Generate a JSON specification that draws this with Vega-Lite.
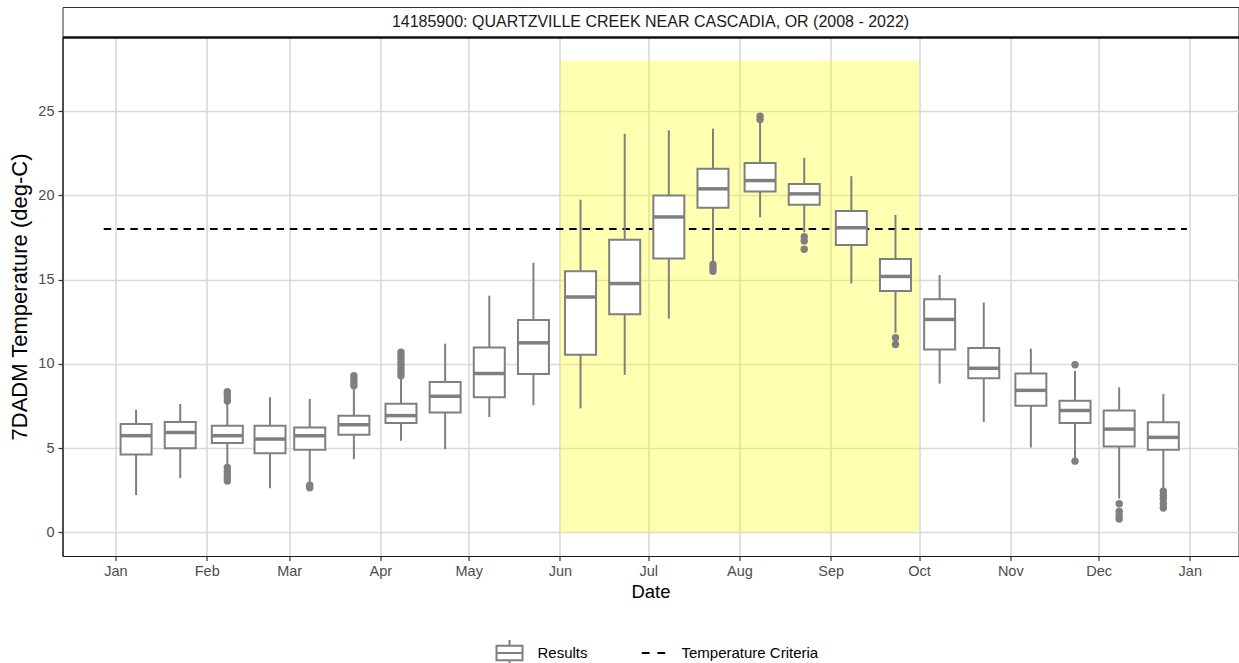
{
  "$schema": "https://vega.github.io/schema/vega-lite/v6.json",
  "autosize": {"type": "pad"},
  "padding": {"left": 7.5, "top": 6, "right": 1, "bottom": 5},
  "background": "white",
  "spacing": 0,
  "bounds": "flush",
  "datasets": {
    "strip": [{"label": "14185900: QUARTZVILLE CREEK NEAR CASCADIA, OR (2008 - 2022)"}],
    "season": [{"start": "2022-06-01T00:00:00", "end": "2022-10-01T00:00:00", "lo": 0, "hi": 28}],
    "criteria": [{"start": "2021-12-28T00:00:00", "end": "2022-12-31T00:00:00", "value": 18, "series": "Temperature Criteria"}],
    "boxes": [
      {"date": "2022-01-08T00:00:00", "lo": 2.22, "q1": 4.62, "med": 5.74, "q3": 6.43, "hi": 7.28, "series": "Results"},
      {"date": "2022-01-23T00:00:00", "lo": 3.22, "q1": 5.0, "med": 5.93, "q3": 6.55, "hi": 7.62, "series": "Results"},
      {"date": "2022-02-08T00:00:00", "lo": 3.95, "q1": 5.3, "med": 5.74, "q3": 6.33, "hi": 7.68, "series": "Results"},
      {"date": "2022-02-22T12:00:00", "lo": 2.62, "q1": 4.7, "med": 5.54, "q3": 6.33, "hi": 8.02, "series": "Results"},
      {"date": "2022-03-08T00:00:00", "lo": 3.0, "q1": 4.9, "med": 5.74, "q3": 6.23, "hi": 7.92, "series": "Results"},
      {"date": "2022-03-23T00:00:00", "lo": 4.35, "q1": 5.8, "med": 6.39, "q3": 6.93, "hi": 8.5, "series": "Results"},
      {"date": "2022-04-08T00:00:00", "lo": 5.44, "q1": 6.49, "med": 6.93, "q3": 7.64, "hi": 9.1, "series": "Results"},
      {"date": "2022-04-23T00:00:00", "lo": 4.94, "q1": 7.12, "med": 8.08, "q3": 8.93, "hi": 11.2, "series": "Results"},
      {"date": "2022-05-08T00:00:00", "lo": 6.85, "q1": 8.02, "med": 9.43, "q3": 10.98, "hi": 14.05, "series": "Results"},
      {"date": "2022-05-23T00:00:00", "lo": 7.55, "q1": 9.4, "med": 11.25, "q3": 12.6, "hi": 16.0, "series": "Results"},
      {"date": "2022-06-08T00:00:00", "lo": 7.36, "q1": 10.54, "med": 13.97, "q3": 15.5, "hi": 19.75, "series": "Results"},
      {"date": "2022-06-23T00:00:00", "lo": 9.35, "q1": 12.94, "med": 14.77, "q3": 17.37, "hi": 23.66, "series": "Results"},
      {"date": "2022-07-08T00:00:00", "lo": 12.69, "q1": 16.26, "med": 18.72, "q3": 19.99, "hi": 23.86, "series": "Results"},
      {"date": "2022-07-23T00:00:00", "lo": 16.1, "q1": 19.27, "med": 20.39, "q3": 21.58, "hi": 23.96, "series": "Results"},
      {"date": "2022-08-08T00:00:00", "lo": 18.7, "q1": 20.23, "med": 20.88, "q3": 21.92, "hi": 24.3, "series": "Results"},
      {"date": "2022-08-23T00:00:00", "lo": 17.81, "q1": 19.45, "med": 20.09, "q3": 20.68, "hi": 22.23, "series": "Results"},
      {"date": "2022-09-08T00:00:00", "lo": 14.77, "q1": 17.05, "med": 18.08, "q3": 19.08, "hi": 21.14, "series": "Results"},
      {"date": "2022-09-23T00:00:00", "lo": 11.85, "q1": 14.33, "med": 15.19, "q3": 16.22, "hi": 18.84, "series": "Results"},
      {"date": "2022-10-08T00:00:00", "lo": 8.83, "q1": 10.86, "med": 12.64, "q3": 13.84, "hi": 15.27, "series": "Results"},
      {"date": "2022-10-23T00:00:00", "lo": 6.55, "q1": 9.15, "med": 9.74, "q3": 10.94, "hi": 13.64, "series": "Results"},
      {"date": "2022-11-08T00:00:00", "lo": 5.04, "q1": 7.52, "med": 8.43, "q3": 9.43, "hi": 10.9, "series": "Results"},
      {"date": "2022-11-23T00:00:00", "lo": 4.4, "q1": 6.49, "med": 7.24, "q3": 7.82, "hi": 9.6, "series": "Results"},
      {"date": "2022-12-08T00:00:00", "lo": 2.0, "q1": 5.1, "med": 6.13, "q3": 7.24, "hi": 8.61, "series": "Results"},
      {"date": "2022-12-23T00:00:00", "lo": 2.6, "q1": 4.9, "med": 5.64, "q3": 6.53, "hi": 8.22, "series": "Results"}
    ],
    "outliers": [
      {"date": "2022-02-08T00:00:00", "value": 3.85},
      {"date": "2022-02-08T00:00:00", "value": 3.6},
      {"date": "2022-02-08T00:00:00", "value": 3.4},
      {"date": "2022-02-08T00:00:00", "value": 3.2},
      {"date": "2022-02-08T00:00:00", "value": 3.05},
      {"date": "2022-02-08T00:00:00", "value": 7.8},
      {"date": "2022-02-08T00:00:00", "value": 8.0},
      {"date": "2022-02-08T00:00:00", "value": 8.2},
      {"date": "2022-02-08T00:00:00", "value": 8.35},
      {"date": "2022-03-08T00:00:00", "value": 2.8},
      {"date": "2022-03-08T00:00:00", "value": 2.65},
      {"date": "2022-03-23T00:00:00", "value": 8.7},
      {"date": "2022-03-23T00:00:00", "value": 8.9},
      {"date": "2022-03-23T00:00:00", "value": 9.1},
      {"date": "2022-03-23T00:00:00", "value": 9.3},
      {"date": "2022-04-08T00:00:00", "value": 9.3},
      {"date": "2022-04-08T00:00:00", "value": 9.5},
      {"date": "2022-04-08T00:00:00", "value": 9.7},
      {"date": "2022-04-08T00:00:00", "value": 9.9},
      {"date": "2022-04-08T00:00:00", "value": 10.1},
      {"date": "2022-04-08T00:00:00", "value": 10.3},
      {"date": "2022-04-08T00:00:00", "value": 10.5},
      {"date": "2022-04-08T00:00:00", "value": 10.7},
      {"date": "2022-07-23T00:00:00", "value": 15.9},
      {"date": "2022-07-23T00:00:00", "value": 15.7},
      {"date": "2022-07-23T00:00:00", "value": 15.5},
      {"date": "2022-08-08T00:00:00", "value": 24.5},
      {"date": "2022-08-08T00:00:00", "value": 24.7},
      {"date": "2022-08-23T00:00:00", "value": 17.55},
      {"date": "2022-08-23T00:00:00", "value": 17.3},
      {"date": "2022-08-23T00:00:00", "value": 16.8},
      {"date": "2022-09-23T00:00:00", "value": 11.55},
      {"date": "2022-09-23T00:00:00", "value": 11.15},
      {"date": "2022-11-23T00:00:00", "value": 9.95},
      {"date": "2022-11-23T00:00:00", "value": 4.23},
      {"date": "2022-12-08T00:00:00", "value": 1.7},
      {"date": "2022-12-08T00:00:00", "value": 1.25},
      {"date": "2022-12-08T00:00:00", "value": 1.0},
      {"date": "2022-12-08T00:00:00", "value": 0.8},
      {"date": "2022-12-23T00:00:00", "value": 2.45},
      {"date": "2022-12-23T00:00:00", "value": 2.2},
      {"date": "2022-12-23T00:00:00", "value": 2.0},
      {"date": "2022-12-23T00:00:00", "value": 1.7},
      {"date": "2022-12-23T00:00:00", "value": 1.45}
    ]
  },
  "vconcat": [
    {
      "width": 1176,
      "height": 30,
      "view": {"stroke": "#333333", "strokeWidth": 1, "fill": "white"},
      "data": {"name": "strip"},
      "mark": {"type": "text", "fontSize": 16, "color": "#1a1a1a", "font": "Liberation Sans"},
      "encoding": {"text": {"field": "label"}}
    },
    {
      "width": 1176,
      "height": 519,
      "resolve": {"axis": {"x": "independent"}},
      "layer": [
        {
          "data": {"name": "season"},
          "mark": {"type": "rect", "color": "yellow", "opacity": 0.3},
          "encoding": {
            "x": {"field": "start", "type": "temporal",
                  "scale": {"domain": [{"year": 2021, "month": 12, "date": 14}, {"year": 2023, "month": 1, "date": 17, "hours": 13}], "padding": 0, "nice": false},
                  "axis": {"orient": "top", "title": null, "labels": false, "ticks": false, "grid": false, "domain": true, "domainColor": "#111111", "domainWidth": 2.5}},
            "x2": {"field": "end"},
            "y": {"field": "lo", "type": "quantitative", "title": "7DADM Temperature (deg-C)",
                  "scale": {"domain": [-1.4, 29.4], "nice": false, "zero": false},
                  "axis": {"values": [0, 5, 10, 15, 20, 25]}},
            "y2": {"field": "hi"}
          }
        },
        {
          "layer": [
            {
              "data": {"name": "criteria"},
              "mark": {"type": "rule", "strokeWidth": 2, "strokeDash": [7.5, 5.8]},
              "encoding": {
                "x": {"field": "start", "type": "temporal", "title": "Date",
                      "axis": {"orient": "bottom", "grid": true, "format": "%b", "tickCount": {"interval": "month", "step": 1}}},
                "x2": {"field": "end"},
                "y": {"field": "value", "type": "quantitative", "title": "7DADM Temperature (deg-C)"},
                "stroke": {"field": "series", "type": "nominal",
                           "scale": {"domain": ["Results", "Temperature Criteria"], "range": ["#7f7f7f", "#000000"]},
                           "legend": {
                             "title": null, "orient": "none", "legendX": 433, "legendY": 632, "direction": "horizontal",
                             "labelFontSize": 15, "labelColor": "#000000", "labelOffset": 14, "columnPadding": 49,
                             "symbolSize": 676, "symbolStrokeWidth": 2,
                             "encode": {"symbols": {"update": {
                               "shape": {"signal": "datum.value === 'Results' ? 'M-1,-0.55H1V0.55H-1Z M-1,0H1 M0,-0.55V-1 M0,0.55V1' : 'M0,-1M0,1M-0.9,0H-0.3M0.3,0H0.9'"},
                               "fill": {"value": "white"},
                               "strokeWidth": {"value": 2},
                               "strokeDash": {"value": []}
                             }}}
                           }}
              }
            },
            {
              "data": {"name": "boxes"},
              "mark": {"type": "rule", "color": "#7f7f7f", "strokeWidth": 2},
              "encoding": {
                "x": {"field": "date", "type": "temporal", "title": "Date"},
                "y": {"field": "lo", "type": "quantitative", "title": "7DADM Temperature (deg-C)"},
                "y2": {"field": "hi"}
              }
            },
            {
              "data": {"name": "boxes"},
              "mark": {"type": "bar", "width": 31, "fill": "white", "strokeWidth": 2, "opacity": 1},
              "encoding": {
                "x": {"field": "date", "type": "temporal", "title": "Date"},
                "y": {"field": "q1", "type": "quantitative", "title": "7DADM Temperature (deg-C)"},
                "y2": {"field": "q3"},
                "stroke": {"field": "series", "type": "nominal"}
              }
            },
            {
              "data": {"name": "boxes"},
              "mark": {"type": "tick", "orient": "horizontal", "size": 31, "thickness": 3.5, "color": "#7f7f7f", "opacity": 1},
              "encoding": {
                "x": {"field": "date", "type": "temporal", "title": "Date"},
                "y": {"field": "med", "type": "quantitative", "title": "7DADM Temperature (deg-C)"}
              }
            },
            {
              "data": {"name": "outliers"},
              "mark": {"type": "point", "filled": true, "size": 55, "color": "#7f7f7f", "opacity": 1},
              "encoding": {
                "x": {"field": "date", "type": "temporal", "title": "Date"},
                "y": {"field": "value", "type": "quantitative", "title": "7DADM Temperature (deg-C)"}
              }
            }
          ]
        }
      ]
    }
  ],
  "config": {
    "font": "Liberation Sans",
    "view": {"stroke": "#333333", "strokeWidth": 1},
    "axis": {
      "labelFont": "Liberation Sans", "titleFont": "Liberation Sans",
      "labelColor": "#4d4d4d", "labelFontSize": 14.5,
      "titleColor": "#000000", "titleFontSize": 18.5, "titleFontWeight": "normal",
      "domainColor": "#1a1a1a", "domainWidth": 1.2,
      "tickColor": "#333333", "tickSize": 4.5, "tickWidth": 1.2,
      "gridColor": "#d9d9d9", "gridWidth": 1.6
    },
    "axisX": {"labelPadding": 4, "titlePadding": 4},
    "axisY": {"labelPadding": 4, "titlePadding": 6, "titleFontSize": 22},
    "legend": {"labelFont": "Liberation Sans"}
  }
}
